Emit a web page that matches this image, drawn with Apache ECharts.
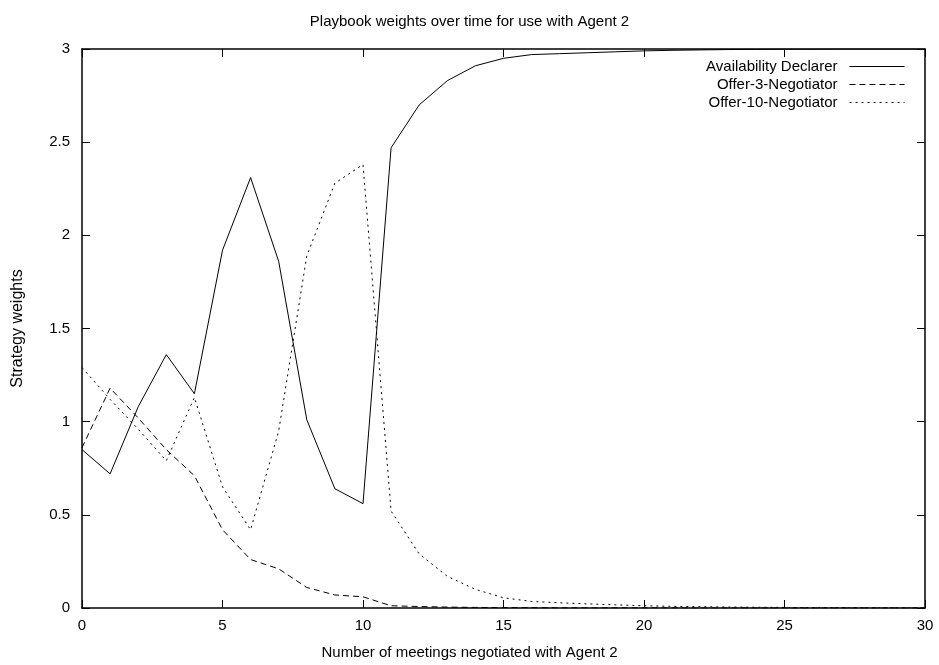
<!DOCTYPE html>
<html>
<head>
<meta charset="utf-8">
<script src="https://cdn.jsdelivr.net/npm/echarts@6/dist/echarts.min.js"></script>
<style>
  html, body { margin: 0; padding: 0; background: #fff; }
  #chart { width: 939px; height: 665px; }
</style>
</head>
<body>
<div id="chart"></div>
<script>
// meetings 0..30
var meetings = [];
for (var i = 0; i <= 30; i++) meetings.push(i);

// 读自参考图
var declarer = [0.85, 0.72, 1.08, 1.36, 1.15, 1.92, 2.31, 1.86, 1.01, 0.64, 0.56,
  2.47, 2.70, 2.83, 2.91, 2.95, 2.97, 2.975, 2.98, 2.985, 2.99,
  2.993, 2.995, 2.997, 2.998, 2.999, 2.999, 3.0, 3.0, 3.0, 3.0];
var offer3 = [0.86, 1.18, 1.02, 0.85, 0.71, 0.42, 0.26, 0.21, 0.11, 0.07, 0.06,
  0.012, 0.008, 0.005, 0.003, 0.002, 0.002, 0.001, 0.001, 0.001, 0.001,
  0.001, 0, 0, 0, 0, 0, 0, 0, 0, 0];
var offer10 = [1.29, 1.12, 0.96, 0.79, 1.13, 0.65, 0.42, 0.95, 1.89, 2.28, 2.38,
  0.52, 0.29, 0.17, 0.10, 0.055, 0.035, 0.028, 0.022, 0.017, 0.012,
  0.009, 0.007, 0.005, 0.004, 0.003, 0.002, 0.002, 0.001, 0.001, 0.001];

var seriesNames = ['Availability Declarer', 'Offer-3-Negotiator', 'Offer-10-Negotiator'];

var font = 'Liberation Sans, Arial, Helvetica, sans-serif';

function pairs(ys) {
  return meetings.map(function (x, k) { return [x, ys[k]]; });
}

function legendFor(name, top) {
  return {
    data: [name],
    right: 34,
    top: top,
    orient: 'vertical',
    align: 'right',
    itemWidth: 55,
    itemHeight: 14,
    padding: 0,
    itemStyle: { color: 'transparent', borderWidth: 0, opacity: 0 },
    lineStyle: { width: 1 },
    textStyle: { fontFamily: font, fontSize: 15, color: '#000', padding: [0, 7, 0, 0] }
  };
}

function mirrorAxis(base, pos) {
  return Object.assign({}, base, {
    position: pos,
    name: '',
    axisLabel: { show: false }
  });
}

var xBase = {
  type: 'value',
  min: 0, max: 30, interval: 5,
  axisLine: { show: true, onZero: false, lineStyle: { color: '#000', width: 1.5 } },
  axisTick: { show: true, inside: true, length: 8, lineStyle: { color: '#000', width: 1 } },
  splitLine: { show: false },
  axisLabel: { color: '#000', fontFamily: font, fontSize: 15, margin: 10 }
};
var yBase = {
  type: 'value',
  min: 0, max: 3, interval: 0.5,
  axisLine: { show: true, onZero: false, lineStyle: { color: '#000', width: 1.5 } },
  axisTick: { show: true, inside: true, length: 8, lineStyle: { color: '#000', width: 1 } },
  splitLine: { show: false },
  axisLabel: { color: '#000', fontFamily: font, fontSize: 15, margin: 12 }
};

var chart = echarts.init(document.getElementById('chart'));
var option = {
  backgroundColor: '#fff',
  animation: false,
  title: [
    {
      text: 'Playbook weights over time for use with Agent 2',
      left: 'center',
      top: 9,
      textStyle: { fontFamily: font, fontSize: 15, fontWeight: 'normal', color: '#000' }
    },
    {
      // x 轴标题：参考图里按画布居中
      text: 'Number of meetings negotiated with Agent 2',
      left: 'center',
      top: 645,
      padding: 0,
      textStyle: { fontFamily: font, fontSize: 15, fontWeight: 'normal', color: '#000' }
    }
  ],
  legend: [
    legendFor(seriesNames[0], 59),
    legendFor(seriesNames[1], 77),
    legendFor(seriesNames[2], 95)
  ],
  grid: { left: 82, right: 14, top: 49, bottom: 57 },
  xAxis: [
    Object.assign({}, xBase, { position: 'bottom' }),
    mirrorAxis(xBase, 'top')
  ],
  yAxis: [
    Object.assign({}, yBase, {
      position: 'left',
      name: 'Strategy weights',
      nameLocation: 'middle',
      nameGap: 56,
      nameTextStyle: { fontFamily: font, fontSize: 16, color: '#000' }
    }),
    mirrorAxis(yBase, 'right')
  ],
  series: [
    {
      name: seriesNames[0], type: 'line', symbol: 'none',
      lineStyle: { color: '#000', width: 1, type: 'solid' },
      itemStyle: { color: '#000' },
      data: pairs(declarer)
    },
    {
      name: seriesNames[1], type: 'line', symbol: 'none',
      lineStyle: { color: '#000', width: 1, type: [6, 4] },
      itemStyle: { color: '#000' },
      data: pairs(offer3)
    },
    {
      name: seriesNames[2], type: 'line', symbol: 'none',
      lineStyle: { color: '#000', width: 1, type: [2, 4] },
      itemStyle: { color: '#000' },
      data: pairs(offer10)
    }
  ]
};
chart.setOption(option);
</script>
</body>
</html>
